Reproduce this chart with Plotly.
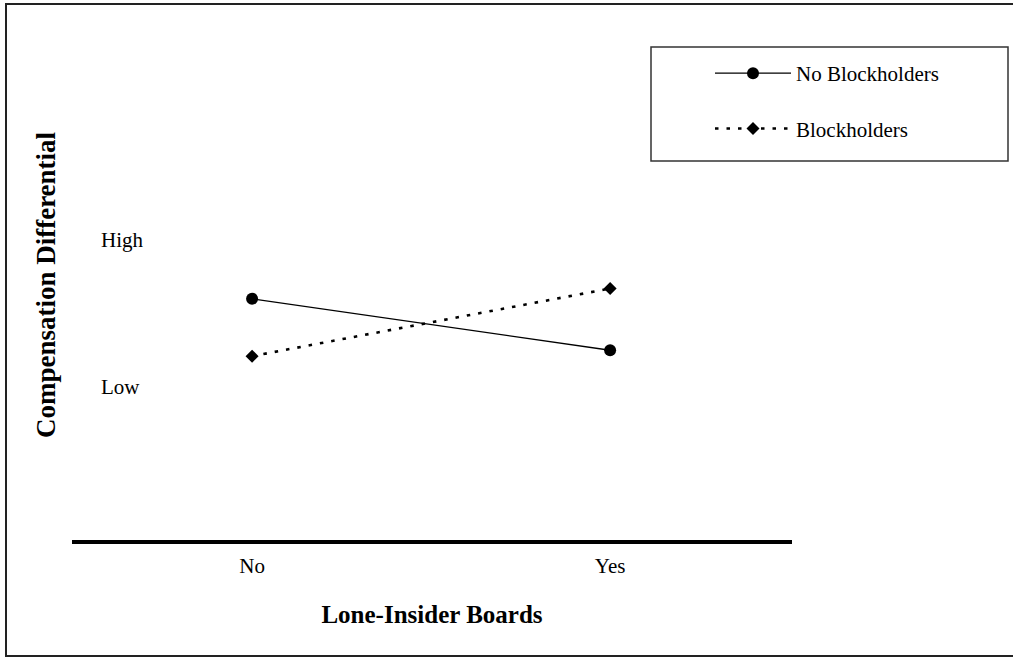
import plotly.graph_objects as go

# ---- data ----
categories = ["No", "Yes"]
no_blockholders = [0.60, 0.25]
blockholders = [0.21, 0.67]
y_tick_vals = [0, 1]
y_tick_text = ["Low", "High"]

FONT = "Liberation Serif, Times New Roman, serif"

W, H = 1013, 658
L, R, T, B = 72, 221, 30, 118
PW, PH = W - L - R, H - T - B


def px_x(p):
    return (p - L) / PW


def px_y(p):
    return (H - B - p) / PH


fig = go.Figure()

fig.add_trace(go.Scatter(
    x=categories, y=no_blockholders, name="No Blockholders",
    mode="lines+markers", legendgroup="a",
    line=dict(color="black", width=1.3),
    marker=dict(symbol="circle", size=12, color="black"),
))
fig.add_trace(go.Scatter(
    x=categories, y=blockholders, name="Blockholders",
    mode="lines+markers", legendgroup="b",
    line=dict(color="black", width=2.6, dash="3.5px,8px"),
    marker=dict(symbol="diamond", size=10, color="black"),
))

shapes = [
    # outer frame
    dict(type="rect", xref="paper", yref="paper",
         x0=px_x(6), x1=px_x(1020), y0=px_y(656), y1=px_y(4),
         line=dict(color="#222", width=2), layer="above"),
    # legend frame
    dict(type="rect", xref="paper", yref="paper",
         x0=px_x(651), x1=px_x(1008), y0=px_y(161), y1=px_y(47),
         line=dict(color="#333", width=1.5), layer="above"),
]

fig.update_layout(
    template="none",
    width=W, height=H,
    margin=dict(l=L, r=R, t=T, b=B, pad=0),
    paper_bgcolor="white", plot_bgcolor="white",
    font=dict(family=FONT, size=21, color="black"),
    showlegend=True,
    legend=dict(
        x=px_x(710), y=px_y(53), xanchor="left", yanchor="top",
        bgcolor="rgba(0,0,0,0)", borderwidth=0,
        font=dict(family=FONT, size=21, color="black"),
        traceorder="grouped", tracegroupgap=25, itemwidth=76,
    ),
    shapes=shapes,
    xaxis=dict(
        type="category", range=[-0.503, 1.508],
        showgrid=False, zeroline=False,
        showline=True, linecolor="black", linewidth=4,
        ticks="", ticklabelstandoff=4,
        tickfont=dict(family=FONT, size=21, color="black"),
        title=dict(text="<b>Lone-Insider Boards</b>", standoff=29,
                   font=dict(family=FONT, size=25, color="black")),
    ),
    yaxis=dict(
        range=[-1.041, 2.429],
        showgrid=False, zeroline=False, showline=False,
        tickvals=y_tick_vals, ticktext=y_tick_text,
        ticks="", ticklabelposition="inside", ticklabelstandoff=26,
        tickfont=dict(family=FONT, size=21, color="black"),
        title=dict(text="<b>Compensation Differential</b>", standoff=37,
                   font=dict(family=FONT, size=27, color="black")),
    ),
)

fig.write_html(
    "out.html",
    config={"displayModeBar": False},
    post_script="document.body.style.margin='0';",
)
